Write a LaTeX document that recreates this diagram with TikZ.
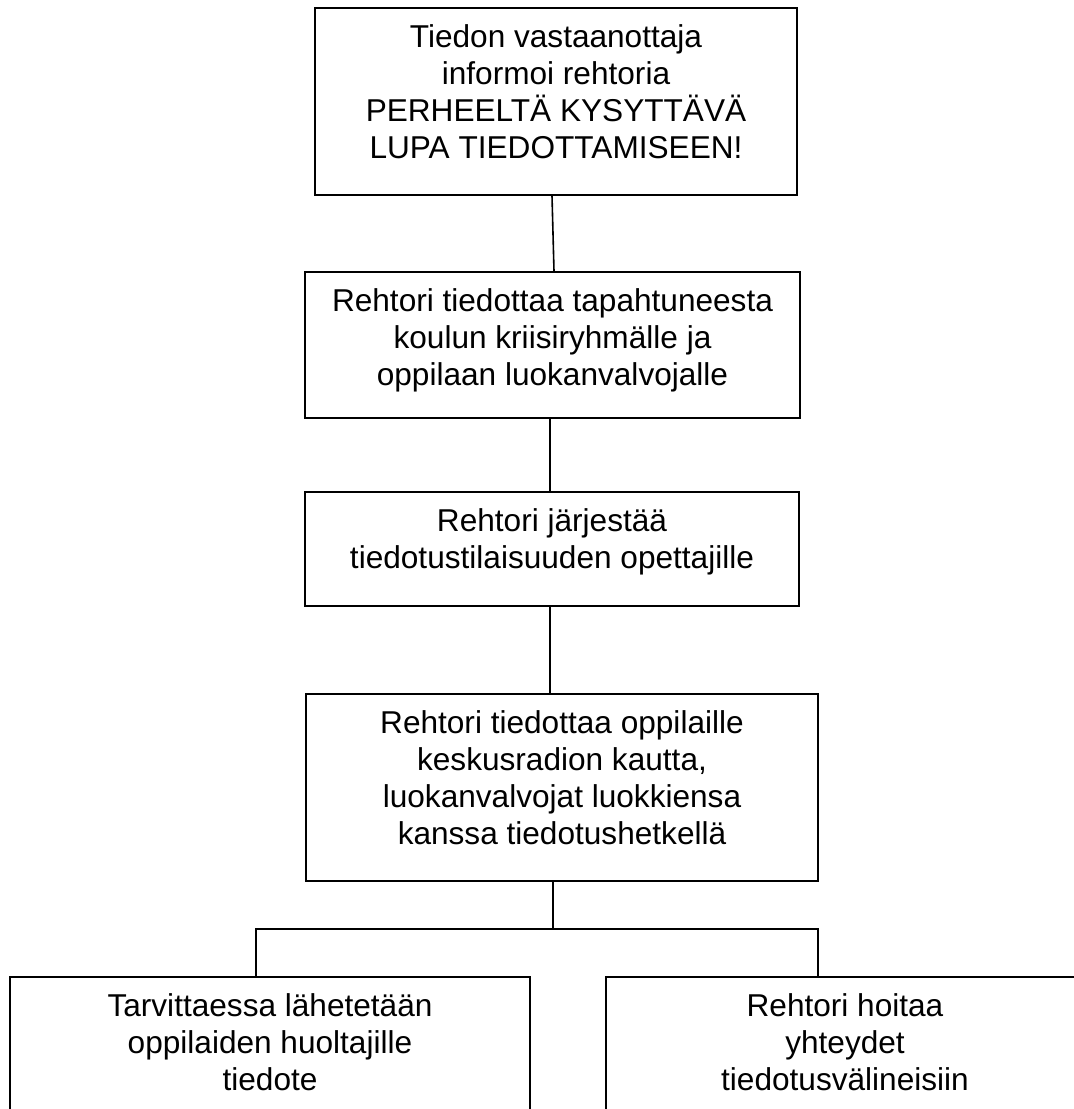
\documentclass[tikz,border=0pt]{standalone}
\usepackage{fontspec}
\setsansfont{Liberation Sans}
\usetikzlibrary{positioning}

\begin{document}
\begin{tikzpicture}[x=0.5pt, y=-0.5pt, font=\sffamily\fontsize{15.8}{18.5}\selectfont,
    box/.style={draw, line width=0.8pt, inner sep=0},
    txt/.style={align=center, inner sep=0}]
    \path[use as bounding box, clip] (0,0) rectangle (1074,1109);

    % Boxes.
    \node[box, minimum width=241pt,   minimum height=93.5pt] (b1) at (556,101.5)  {};
    \node[box, minimum width=247.5pt, minimum height=73pt]   (b2) at (552.5,345)  {};
    \node[box, minimum width=247pt,   minimum height=57pt]   (b3) at (552,549)    {};
    \node[box, minimum width=256pt,   minimum height=93.5pt] (b4) at (562,787.5)  {};
    \node[box, minimum width=260pt,   minimum height=74pt]   (b5) at (270,1051)   {};
    \node[box, minimum width=239pt,   minimum height=74pt]   (b6) at (845,1051)   {};

    % Texts, hanging from the top of each box.
    \node[txt, below=8.5pt of b1.north] (t1) {Tiedon vastaanottaja\\informoi rehtoria\\PERHEELTÄ KYSYTTÄVÄ\\LUPA TIEDOTTAMISEEN!};
    \node[txt, below=8.5pt of b2.north] (t2) {Rehtori tiedottaa tapahtuneesta\\koulun kriisiryhmälle ja\\oppilaan luokanvalvojalle};
    \node[txt, below=8.5pt of b3.north] (t3) {Rehtori järjestää\\tiedotustilaisuuden opettajille};
    \node[txt, below=8.5pt of b4.north] (t4) {Rehtori tiedottaa oppilaille\\keskusradion kautta,\\luokanvalvojat luokkiensa\\kanssa tiedotushetkellä};
    \node[txt, below=8.5pt of b5.north] (t5) {Tarvittaessa lähetetään\\oppilaiden huoltajille\\tiedote};
    \node[txt, below=8.5pt of b6.north] (t6) {Rehtori hoitaa\\yhteydet\\tiedotusvälineisiin};

    % Connectors.
    \coordinate (fork) at (553,929);
    \draw[line width=0.8pt] ([xshift=-2pt]b1.south) -- ([xshift=0.75pt]b2.north);
    \draw[line width=0.8pt] ([xshift=-1.25pt]b2.south) -- ([xshift=-1pt]b3.north);
    \draw[line width=0.8pt] ([xshift=-1pt]b3.south) -- ([xshift=-6pt]b4.north);
    \draw[line width=0.8pt] ([xshift=-4.5pt]b4.south) -- (fork);
    \draw[line width=0.8pt] ([xshift=-7pt]b5.north) |- (fork) -| ([xshift=-13.5pt]b6.north);

\end{tikzpicture}
\end{document}
